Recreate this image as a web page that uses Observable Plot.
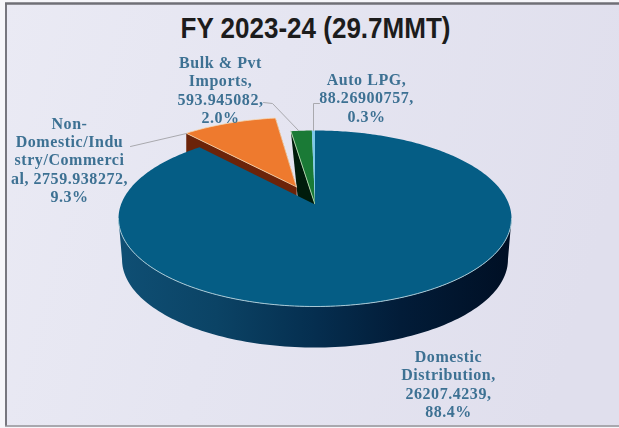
<!DOCTYPE html>
<html>
<head>
<meta charset="utf-8">
<script src="https://cdn.jsdelivr.net/npm/d3@7"></script>
<script src="https://cdn.jsdelivr.net/npm/@observablehq/plot@0.6"></script>
<style>
html,body{margin:0;padding:0;background:#f6f6fa;}
.soft{filter:blur(0.5px);letter-spacing:0.55px;}
</style>
</head>
<body>
<div id="chart"></div>
<script>
// ---- data
const categories = ["Domestic Distribution", "Non-Domestic/Industry/Commercial", "Bulk & Pvt Imports", "Auto LPG"];
const values = [26207.4239, 2759.938272, 593.945082, 88.26900757];
const valueLabels = ["26207.4239", "2759.938272", "593.945082", "88.26900757"];
const percentLabels = ["88.4%", "9.3%", "2.0%", "0.3%"];
const labelLines = [
  ["Domestic", "Distribution,"],
  ["Non-", "Domestic/Indu", "stry/Commerci"],
  ["Bulk & Pvt", "Imports,"],
  ["Auto LPG,"]
];
const titleText = "FY 2023-24 (29.7MMT)";

// ---- styling and layout
const topColors = ["#055d85", "#ee7a2e", "#1a7a36", "#7cc8e8"];
const width = 619, height = 428;
const pieLeft = 118, pieRight = 511, pieTop = 130, pieBottom = 306;
const tilt = 0.16;          // perspective shift of the pie's centre on the ellipse
const explode = 0.234;      // pull-out of slice 1
const drop = 41 / 88;       // wall depth, scale units
const taper = 0.982;        // lower rim slightly narrower
const X = px => (px - (pieLeft + pieRight) / 2) / ((pieRight - pieLeft) / 2);
const Y = py => ((pieTop + pieBottom) / 2 - py) / ((pieBottom - pieTop) / 2);

// ---- geometry derived from the values
const arcs = d3.pie().sort(null).value(d => d)(values);
const persp = ([x, y]) => {
  const k = 1 + tilt * y;
  return {x: x * Math.sqrt(1 - tilt * tilt) / k, y: (y + tilt) / k};
};
function wedge(a, off = 0) {
  const mid = (a.startAngle + a.endAngle) / 2;
  const ox = Math.sin(mid) * off, oy = Math.cos(mid) * off;
  const n = Math.max(3, Math.ceil((a.endAngle - a.startAngle) * 60));
  const pts = [[ox, oy]];
  for (let i = 0; i <= n; i++) {
    const t = a.startAngle + (a.endAngle - a.startAngle) * i / n;
    pts.push([Math.sin(t) + ox, Math.cos(t) + oy]);
  }
  pts.push([ox, oy]);
  return pts.map(persp);
}
// wall hanging below the edge p→q of a top face
const wall = (p, q, d, lean = 0) => [
  p, q,
  {x: q.x, y: q.y - d},
  {x: p.x + (q.x - p.x) * lean, y: p.y - d},
  p
];
const rim = d3.range(121).map(i => Math.PI + Math.PI * i / 120);
const sideWall = [
  ...rim.map(t => ({x: Math.cos(t), y: Math.sin(t)})),
  ...rim.slice().reverse().map(t => ({x: Math.cos(t) * taper, y: Math.sin(t) - drop}))
];
const frontArc = rim.map(t => ({x: Math.cos(t), y: Math.sin(t)}));

const topFaces = arcs.map((a, i) => wedge(a, i === 1 ? explode : 0));
const orange = topFaces[1], green = topFaces[2];
const orangeWall = wall(orange[orange.length - 2], orange[0], 0.36);
const orangeWall2 = wall(orange[1], orange[0], 0.36);
const greenWall = wall(green[1], green[0], 0.8, 0.3);

const poly = (pts, fill, stroke = "none", strokeWidth = 1) =>
  Plot.line(pts, {x: "x", y: "y", fill, stroke, strokeWidth, curve: "linear-closed"});

const defs = () => {
  const s = d3.create("svg:defs");
  const side = s.append("linearGradient").attr("id", "side").attr("gradientUnits", "userSpaceOnUse")
    .attr("x1", pieLeft).attr("x2", pieRight).attr("y1", 0).attr("y2", 0);
  [[0, "#0f4f74"], [0.25, "#0b4365"], [0.5, "#052e4f"], [0.72, "#021c38"], [1, "#000f24"]]
    .forEach(([o, c]) => side.append("stop").attr("offset", o).attr("stop-color", c));
  const bg = s.append("linearGradient").attr("id", "bg").attr("gradientUnits", "userSpaceOnUse")
    .attr("x1", 0).attr("x2", width).attr("y1", 0).attr("y2", height * 0.4);
  [[0, "#eaeaf4"], [0.45, "#e5e5f1"], [1, "#e0dfed"]]
    .forEach(([o, c]) => bg.append("stop").attr("offset", o).attr("stop-color", c));
  return s.node();
};

const labels = [
  {text: [...labelLines[0], valueLabels[0] + ",", percentLabels[0]].join("\n"), x: X(448), y: Y(383)},
  {text: [...labelLines[1], "al, " + valueLabels[1] + ",", percentLabels[1]].join("\n"), x: X(69), y: Y(159)},
  {text: [...labelLines[2], valueLabels[2] + ",", percentLabels[2]].join("\n"), x: X(220), y: Y(89)},
  {text: [...labelLines[3], valueLabels[3] + ",", percentLabels[3]].join("\n"), x: X(366), y: Y(97)}
];
const leaders = [
  [[130, 146], [186, 133]],
  [[263, 102], [272, 103], [298, 130]],
  [[319, 103], [313, 103], [313, 130]]
].map(l => l.map(([x, y]) => ({x: X(x), y: Y(y)})));

const chart = Plot.plot({
  width, height,
  margin: 0,
  style: {background: "#f6f6fa", overflow: "hidden"},
  x: {domain: [-1, 1], range: [pieLeft, pieRight], axis: null, clamp: false},
  y: {domain: [-1, 1], range: [pieBottom, pieTop], axis: null, clamp: false},
  marks: [
    defs,
    Plot.rect([0], {x1: X(6), x2: X(width), y1: Y(4), y2: Y(425), fill: "url(#bg)"}),
    Plot.ruleX([X(5.5)], {y1: Y(3), y2: Y(426), stroke: "#77777f", strokeWidth: 2}),
    Plot.ruleY([Y(3)], {x1: X(5), x2: X(width), stroke: "#6f6f76", strokeWidth: 2.5}),
    Plot.ruleY([Y(425.5)], {x1: X(5), x2: X(width), stroke: "#8e8e94", strokeWidth: 1.5}),

    poly(sideWall, "url(#side)"),
    poly(greenWall, "#001c0c"),
    poly(green, topColors[2]),
    Plot.line(green.slice(0, 2), {x: "x", y: "y", stroke: "#a9cfa6", strokeWidth: 1}),
    poly(topFaces[3], topColors[3]),
    poly(orangeWall, "#6b2309"),
    poly(orangeWall2, "#6b2309"),
    poly(orange, topColors[1], "#f5d9b5", 0.8),
    poly(topFaces[0], topColors[0]),
    Plot.line(frontArc, {x: "x", y: "y", stroke: "#a8c9d6", strokeWidth: 1}),

    ...leaders.map(l => Plot.line(l, {x: "x", y: "y", stroke: "#a9a9ae", strokeWidth: 1})),
    Plot.text(labels, {
      x: "x", y: "y", text: "text", className: "soft",
      fill: "#3d7193", fontFamily: "Liberation Serif", fontWeight: 700,
      fontSize: 16, lineHeight: 1.15, textAnchor: "middle"
    }),
    Plot.text([titleText], {
      x: X(315), y: Y(28), text: d => d, className: "fytitle",
      fill: "#1c1c1c", fontFamily: "'Liberation Sans'",
      fontWeight: 700, fontSize: 29
    })
  ]
});
// the reference title is set in a condensed face: squeeze the installed one to its width
d3.select(chart).selectAll(".fytitle text")
  .attr("textLength", 270).attr("lengthAdjust", "spacingAndGlyphs");
document.getElementById("chart").appendChild(chart);
</script>
</body>
</html>
